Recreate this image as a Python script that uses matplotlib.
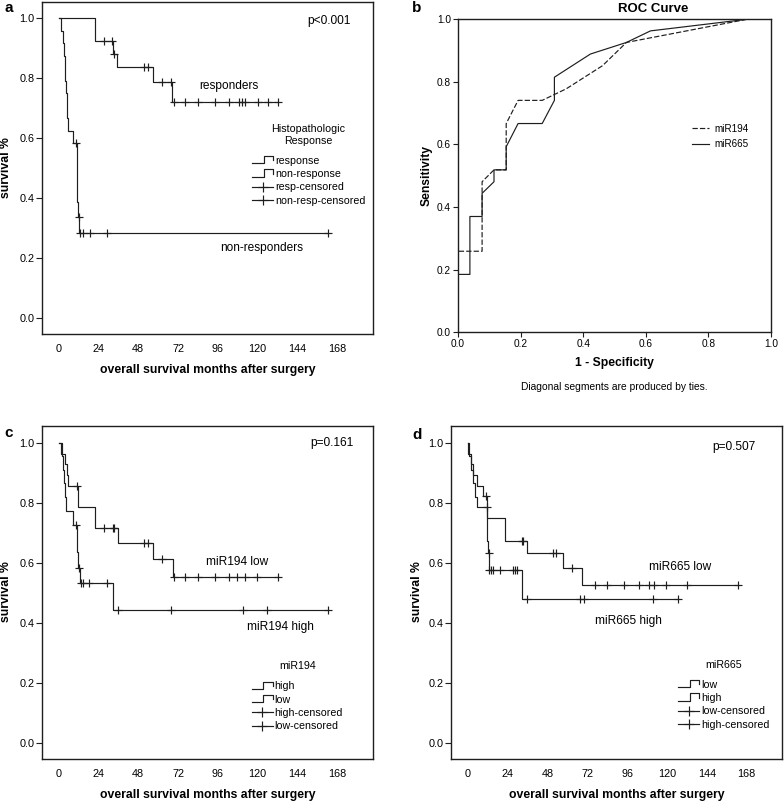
import numpy as np
import matplotlib
matplotlib.use("Agg")
import matplotlib.pyplot as plt
from matplotlib import font_manager
from matplotlib.legend_handler import HandlerBase
from matplotlib.lines import Line2D

# ---------------- data ----------------
month_ticks = [0, 24, 48, 72, 96, 120, 144, 168]
surv_ticks = [0.0, 0.2, 0.4, 0.6, 0.8, 1.0]

# panel a
resp_times = [0, 22.0, 32.8, 35.3, 57.0, 68.4]
resp_surv = [1.0, 0.923, 0.881, 0.839, 0.787, 0.720]
resp_cens = [27.5, 32.4, 33.4, 51.4, 53.6, 62.6, 67.8, 69.5, 76.3, 83.9, 94.2,
             103.0, 108.8, 110.6, 112.4, 119.9, 126.1, 132.3]
nonresp_times = [0, 1.2, 2.6, 3.2, 3.6, 4.0, 4.4, 4.8, 5.2, 5.8, 8.8, 10.8, 11.2, 11.8, 12.6]
nonresp_surv = [1.0, 0.958, 0.917, 0.875, 0.833, 0.792, 0.750, 0.708, 0.667, 0.625,
                0.583, 0.486, 0.389, 0.339, 0.283]
nonresp_cens = [10.5, 12.3, 12.9, 14.8, 18.9, 29.3, 162.4]

# panel b (ROC)
mir194_fpr = [0, 0, 0.077, 0.077, 0.115, 0.154, 0.154, 0.192, 0.269, 0.346, 0.462, 0.538, 0.923, 1.0]
mir194_tpr = [0, 0.259, 0.259, 0.481, 0.519, 0.519, 0.667, 0.741, 0.741, 0.778, 0.852, 0.926, 1.0, 1.0]
mir665_fpr = [0, 0, 0.038, 0.038, 0.077, 0.077, 0.115, 0.115, 0.154, 0.154, 0.192, 0.269,
              0.308, 0.308, 0.423, 0.538, 0.615, 0.923, 1.0]
mir665_tpr = [0, 0.185, 0.185, 0.370, 0.370, 0.444, 0.481, 0.519, 0.519, 0.593, 0.667, 0.667,
              0.741, 0.815, 0.889, 0.926, 0.963, 1.0, 1.0]
roc_ticks = [0.0, 0.2, 0.4, 0.6, 0.8, 1.0]

# panel c
mir194_high_times = [0, 1.8, 2.8, 3.4, 4.0, 4.4, 8.8, 10.8, 11.2, 11.8, 13.0, 32.9]
mir194_high_surv = [1.0, 0.955, 0.909, 0.864, 0.818, 0.773, 0.727, 0.682, 0.636, 0.581, 0.531, 0.442]
mir194_high_cens = [10.4, 12.6, 13.3, 14.6, 18.4, 29.3, 35.9, 67.6, 111.2, 125.9, 162.4]
mir194_low_times = [0, 1.4, 4.0, 5.0, 5.8, 11.4, 22.2, 35.9, 57.2, 68.7]
mir194_low_surv = [1.0, 0.964, 0.929, 0.893, 0.857, 0.786, 0.714, 0.665, 0.613, 0.552]
mir194_low_cens = [11.1, 27.5, 32.5, 33.3, 51.4, 53.6, 62.6, 69.5, 76.3, 83.9, 94.2,
                   103.0, 107.8, 112.2, 119.6, 132.3]

# panel d
mir665_low_times = [0, 0.5, 2.0, 3.5, 5.4, 9.5, 11.6, 11.9, 22.3, 36.0, 57.5, 68.6]
mir665_low_surv = [1.0, 0.964, 0.929, 0.893, 0.857, 0.821, 0.786, 0.750, 0.672, 0.632, 0.583, 0.525]
mir665_low_cens = [11.3, 32.6, 33.4, 51.5, 53.5, 63.1, 76.6, 83.9, 94.3, 103.4, 109.4,
                   112.4, 119.5, 132.2, 162.8]
mir665_high_times = [0, 1.0, 2.0, 3.0, 4.5, 5.8, 11.6, 11.9, 12.3, 12.9, 32.6]
mir665_high_surv = [1.0, 0.955, 0.909, 0.864, 0.818, 0.787, 0.730, 0.672, 0.631, 0.576, 0.478]
mir665_high_cens = [11.4, 12.6, 13.1, 13.9, 15.3, 19.3, 27.3, 28.5, 30.0, 36.0, 67.8,
                    70.2, 111.8, 126.5]

# ---------------- style ----------------
avail = {f.name for f in font_manager.fontManager.ttflist}
KMFONT = 'Liberation Sans Narrow' if 'Liberation Sans Narrow' in avail else 'Liberation Sans'
K = 1.18 if KMFONT.endswith('Narrow') else 1.0
plt.rcParams['font.family'] = ['Liberation Sans', 'DejaVu Sans']

LC = '#1e1e1e'
LW = 0.85
W, H = 784, 802
fig = plt.figure(figsize=(W / 100, H / 100), dpi=100)


def px_axes(l, t, r, b):
    return fig.add_axes([l / W, 1 - b / H, (r - l) / W, (b - t) / H])


def ftext(x, y, s, **kw):
    kw.setdefault('ha', 'center')
    kw.setdefault('va', 'center')
    return fig.text(x / W, 1 - y / H, s, **kw)


class StepProxy:
    pass


class StepHandler(HandlerBase):
    def create_artists(self, legend, orig_handle, xdescent, ydescent, width, height,
                       fontsize, trans):
        x0, y0 = -xdescent, -ydescent
        xm = x0 + 0.55 * width
        xs = [x0, xm, xm, x0 + width, x0 + width]
        ys = [y0 + 0.05 * height, y0 + 0.05 * height, y0 + 1.05 * height,
              y0 + 1.05 * height, y0 + 0.45 * height]
        return [Line2D(xs, ys, color=LC, lw=LW, transform=trans)]


def km(ax, times, surv, cens):
    t = np.asarray(times, float)
    s = np.asarray(surv, float)
    c = np.asarray(cens, float)
    tend = max(c.max(), t[-1])
    ax.step(np.r_[t, tend], np.r_[s, s[-1]], where='post', color=LC, lw=LW)
    idx = np.searchsorted(t, c, side='right') - 1
    ax.plot(c, s[idx], ls='none', marker='+', ms=5.3, mew=LW, color=LC)


def km_axes(ax):
    ax.set_xlim(-10, 189.5)
    ax.set_ylim(-0.0545, 1.0557)
    ax.set_xticks(month_ticks)
    ax.set_xticklabels([str(m) for m in month_ticks], fontfamily=KMFONT, fontsize=7.8 * K)
    ax.set_yticks(surv_ticks)
    ax.set_yticklabels([f'{v:.1f}' for v in surv_ticks], fontfamily=KMFONT, fontsize=7.8 * K)
    ax.tick_params(axis='y', direction='out', length=4.3, width=0.8, pad=1.2, color=LC)
    ax.tick_params(axis='x', length=0, pad=7)
    for sp in ax.spines.values():
        sp.set_linewidth(1.0)
        sp.set_color(LC)


def km_legend(ax, title, labels, anchor):
    fs = 7.7 * K
    handles = [StepProxy(), StepProxy(),
               Line2D([], [], color=LC, lw=LW, marker='+', ms=6.5, mew=LW),
               Line2D([], [], color=LC, lw=LW, marker='+', ms=6.5, mew=LW)]
    leg = ax.legend(handles, labels, title=title, loc='upper left', bbox_to_anchor=anchor,
                    frameon=False, handler_map={StepProxy: StepHandler()},
                    prop={'family': KMFONT, 'size': fs},
                    title_fontproperties={'family': KMFONT, 'size': fs},
                    handlelength=2.0, handleheight=0.7, handletextpad=0.15,
                    labelspacing=0.31, borderpad=0, borderaxespad=0, alignment='center')
    leg.get_title().set_multialignment('center')
    leg._legend_box.sep = 7.2
    return leg


# ---------------- panel a ----------------
ax_a = px_axes(42, 1.6, 373, 334.5)
km(ax_a, resp_times, resp_surv, resp_cens)
km(ax_a, nonresp_times, nonresp_surv, nonresp_cens)
km_axes(ax_a)
km_legend(ax_a, 'Histopathologic\nResponse',
          ['response', 'non-response', 'resp-censored', 'non-resp-censored'], (0.634, 0.632))

# ---------------- panel b ----------------
ax_b = px_axes(458, 19.3, 771, 332.3)
ax_b.plot(mir194_fpr, mir194_tpr, color=LC, lw=LW, dashes=(4.5, 1.8), label='miR194')
ax_b.plot(mir665_fpr, mir665_tpr, color=LC, lw=LW, label='miR665')
ax_b.set_xlim(0, 1)
ax_b.set_ylim(0, 1)
ax_b.set_xticks(roc_ticks)
ax_b.set_yticks(roc_ticks)
ax_b.set_xticklabels([f'{v:.1f}' for v in roc_ticks], fontsize=7.3)
ax_b.set_yticklabels([f'{v:.1f}' for v in roc_ticks], fontsize=7.3)
ax_b.tick_params(direction='out', length=3.5, width=0.8, pad=1.5, color=LC)
for sp in ax_b.spines.values():
    sp.set_linewidth(1.0)
    sp.set_color(LC)
ax_b.legend(loc='upper left', bbox_to_anchor=(0.7466, 0.666), frameon=False, fontsize=7.1,
            handlelength=1.8, handletextpad=0.5, labelspacing=0.55, borderpad=0,
            borderaxespad=0)

# ---------------- panel c ----------------
ax_c = px_axes(42, 426, 373, 759)
km(ax_c, mir194_high_times, mir194_high_surv, mir194_high_cens)
km(ax_c, mir194_low_times, mir194_low_surv, mir194_low_cens)
km_axes(ax_c)
km_legend(ax_c, 'miR194', ['high', 'low', 'high-censored', 'low-censored'], (0.6335, 0.293))

# ---------------- panel d ----------------
ax_d = px_axes(451, 426, 782.3, 759)
km(ax_d, mir665_low_times, mir665_low_surv, mir665_low_cens)
km(ax_d, mir665_high_times, mir665_high_surv, mir665_high_cens)
km_axes(ax_d)
km_legend(ax_d, 'miR665', ['low', 'high', 'low-censored', 'high-censored'], (0.685, 0.298))

# ---------------- texts ----------------
kmf = dict(fontfamily=KMFONT)
ann = 8.6 * K
lab = 8.8 * K
ftext(8.5, 8.5, 'a', fontsize=11, fontweight='bold')
ftext(417, 8.5, 'b', fontsize=11, fontweight='bold')
ftext(8.5, 433, 'c', fontsize=11, fontweight='bold')
ftext(417, 435, 'd', fontsize=11, fontweight='bold')

ftext(328.5, 20.7, 'p<0.001', fontsize=ann, **kmf)
ftext(229, 86, 'responders', fontsize=ann, **kmf)
ftext(261.5, 248, 'non-responders', fontsize=ann, **kmf)
ftext(331.5, 443, 'p=0.161', fontsize=ann, **kmf)
ftext(237.5, 561.7, 'miR194 low', fontsize=ann, **kmf)
ftext(280.5, 626.7, 'miR194 high', fontsize=ann, **kmf)
ftext(734, 446.7, 'p=0.507', fontsize=ann, **kmf)
ftext(680.3, 566.7, 'miR665 low', fontsize=ann, **kmf)
ftext(628.3, 620.7, 'miR665 high', fontsize=ann, **kmf)

for (x, y) in [(6, 168), (6, 592), (417, 592)]:
    ftext(x, y, 'survival %', fontsize=lab, fontweight='bold', rotation=90, **kmf)
for (x, y) in [(208, 370), (208, 795), (616.6, 795)]:
    ftext(x, y, 'overall survival months after surgery', fontsize=lab, fontweight='bold', **kmf)

ftext(653.5, 9.5, 'ROC Curve', fontsize=9.5, fontweight='bold')
ftext(426.7, 175.8, 'Sensitivity', fontsize=8.7, fontweight='bold', rotation=90)
ftext(614.5, 363, '1 - Specificity', fontsize=8.7, fontweight='bold')
ftext(614, 387, 'Diagonal segments are produced by ties.', fontsize=7.4)

fig.savefig('out.png', dpi=100)
